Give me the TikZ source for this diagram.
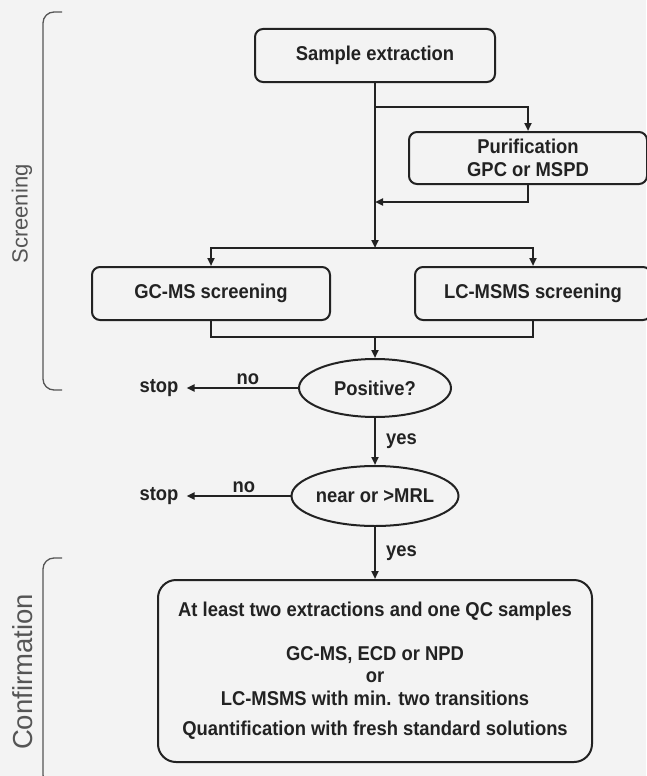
\documentclass[tikz,border=0pt]{standalone}
\usepackage{fontspec}
\setmainfont{Liberation Sans}
\newfontfamily\boxfont{Liberation Sans}[FakeStretch=0.92]
\usetikzlibrary{shapes.geometric,arrows.meta}
\definecolor{ink}{HTML}{222222}
\definecolor{bg}{HTML}{F3F3F3}
\definecolor{brk}{HTML}{555555}
\tikzset{
  txt/.style={font=\boxfont\bfseries\fontsize{20}{22.5}\selectfont, text=ink},
  box/.style={txt, draw=ink, line width=2pt, rounded corners=8pt, inner sep=0pt, align=center},
  oval/.style={txt, draw=ink, line width=2pt, ellipse, inner sep=0pt},
  lbl/.style={txt, inner sep=2pt},
  conn/.style={draw=ink, line width=2.2pt},
  arr/.style={conn, -{Triangle[length=8pt,width=7pt]}},
  side/.style={text=brk, rotate=90},
  bracket/.style={draw=brk, line width=1.3pt, rounded corners=11pt}
}
\begin{document}
\begin{tikzpicture}[x=1pt,y=-1pt]
\fill[bg] (0,0) rectangle (646,776);
\useasboundingbox (0,0) rectangle (646,776);

% nodes
\node[box, minimum width=240pt, minimum height=53pt] (se) at (375,55.5) {Sample extraction};
\node[box, minimum width=238pt, minimum height=52pt] (pur) at (528,158) {Purification\\GPC or MSPD};
\node[box, minimum width=238pt, minimum height=53pt] (gc) at (211,293.5) {GC-MS screening};
\node[box, minimum width=236pt, minimum height=53pt] (lc) at (533,293.5) {LC-MSMS screening};
\node[oval, minimum width=152pt, minimum height=58pt] (pos) at (375,388) {Positive?};
\node[oval, minimum width=151pt, minimum height=60pt] (mrl) at (375,496) {near or >MRL};
\node[box, rounded corners=18pt, minimum width=434pt, minimum height=182pt] (conf) at (375,671)
  {At least two extractions and one QC samples\\[21pt]
   GC-MS, ECD or NPD\\ or\\ LC-MSMS with min. two transitions\\[8pt]
   Quantification with fresh standard solutions};
\node[lbl, inner xsep=8pt] (stopa) at (159,388) {stop};
\node[lbl, inner xsep=8pt] (stopb) at (159,496) {stop};

\node[side, font=\fontsize{22}{24}\selectfont] (scr) at (22,214) {Screening};
\node[side, font=\fontsize{27.5}{29}\selectfont] (cnf) at (23,672) {Confirmation};

% junction coordinates
\coordinate (b1) at (375,107);
\coordinate (r1) at (375,202);
\coordinate (hc) at (375,248);
\coordinate (mc) at (375,337);

% connectors
\draw[arr] (se.south) -- (hc);
\draw[arr] (b1) -| (pur.north);
\draw[arr] (pur.south) |- (r1);
\draw[arr] (hc) -| (gc.north);
\draw[arr] (hc) -| (lc.north);
\draw[conn] (gc.south) |- (mc);
\draw[conn] (lc.south) |- (mc);
\draw[arr] (mc) -- (pos.north);
\draw[arr] (pos.west) -- node[lbl, above, pos=0.45] {no} (stopa.east);
\draw[arr] (pos.south) -- node[lbl, right, inner xsep=10pt] {yes} (mrl.north);
\draw[arr] (mrl.west) -- node[lbl, above, pos=0.45] {no} (stopb.east);
\draw[arr] (mrl.south) -- node[lbl, right, inner xsep=10pt] {yes} (conf.north);

% brackets
\draw[bracket] (62,12) -- (43,12) -- (43,390) -- (62,390);
\draw[bracket] (62,558) -- (43,558) -- (43,786) -- (62,786);
\end{tikzpicture}
\end{document}
